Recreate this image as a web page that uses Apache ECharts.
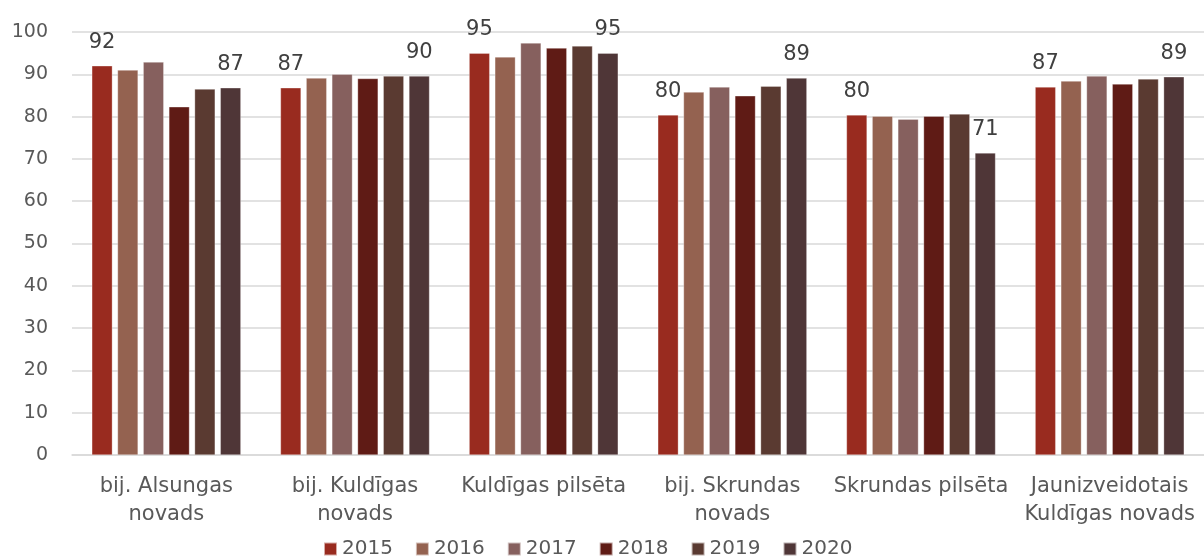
<!DOCTYPE html>
<html>
<head>
<meta charset="utf-8">
<script src="https://cdn.jsdelivr.net/npm/echarts@6/dist/echarts.min.js"></script>
<style>
	html, body { margin: 0; padding: 0; background: #fff; }
	#main { width: 1204px; height: 559px; }
</style>
</head>
<body>
<div id="main"></div>
<script>
	// teritorijas
	var categories = ['bij. Alsungas\nnovads', 'bij. Kuldīgas\nnovads', 'Kuldīgas pilsēta', 'bij. Skrundas\nnovads', 'Skrundas pilsēta', 'Jaunizveidotais\nKuldīgas novads'];
	var years = ['2015', '2016', '2017', '2018', '2019', '2020'];
	var colors = ['#992B1F', '#946250', '#86605E', '#5F1B15', '#5A3A31', '#4F3637'];

	var data_2015 = [92.0, 86.8, 95.0, 80.4, 80.4, 87.0];
	var data_2016 = [91.0, 89.1, 94.1, 85.8, 80.1, 88.4];
	var data_2017 = [92.9, 90.0, 97.4, 87.0, 79.4, 89.6];
	var data_2018 = [82.3, 89.0, 96.2, 84.9, 80.1, 87.7];
	var data_2019 = [86.5, 89.6, 96.7, 87.2, 80.6, 88.9];
	var data_2020 = [86.8, 89.6, 95.0, 89.1, 71.4, 89.4];
	var all_data = [data_2015, data_2016, data_2017, data_2018, data_2019, data_2020];

	// vērtības tikai 2015. un 2020. gadam
	var show_label = [true, false, false, false, false, true];

	var font = 'DejaVu Sans';
	var myChart = echarts.init(document.getElementById('main'));

	var series = [];
	for (var i = 0; i < years.length; i++) {
		series.push({
			name: years[i],
			type: 'bar',
			data: all_data[i],
			barGap: '25%',
			barCategoryGap: '21%',
			itemStyle: {
				color: colors[i],
				borderColor: 'rgba(255,255,255,0.6)',
				borderWidth: 0.5
			},
			label: {
				show: show_label[i],
				position: 'top',
				distance: 13,
				color: '#404040',
				fontFamily: font,
				fontSize: 21,
				formatter: function (p) {
					return Math.round(p.value);
				}
			}
		});
	}

	var option = {
		animation: false,
		color: colors,
		textStyle: { fontFamily: font },
		grid: {
			left: 72,
			right: 0,
			top: 32,
			bottom: 104
		},
		legend: {
			data: years,
			bottom: 0,
			padding: [0, 5, 0, 5],
			left: 318,
			itemWidth: 13,
			itemHeight: 13,
			itemGap: 22,
			icon: 'rect',
			textStyle: {
				color: '#595959',
				fontFamily: font,
				fontSize: 20,
				padding: [2, 0, 0, 0]
			}
		},
		xAxis: {
			type: 'category',
			data: categories,
			axisTick: { show: false },
			axisLine: { lineStyle: { color: '#D9D9D9', width: 1.5 } },
			axisLabel: {
				color: '#595959',
				fontFamily: font,
				fontSize: 21,
				lineHeight: 28,
				margin: 18,
				interval: 0
			}
		},
		yAxis: {
			type: 'value',
			min: 0,
			max: 100,
			interval: 10,
			axisLine: { show: false },
			axisTick: { show: false },
			splitLine: { lineStyle: { color: '#D9D9D9', width: 1.5 } },
			axisLabel: {
				color: '#595959',
				fontFamily: font,
				fontSize: 19,
				margin: 24
			}
		},
		series: series
	};

	option && myChart.setOption(option);
</script>
</body>
</html>
